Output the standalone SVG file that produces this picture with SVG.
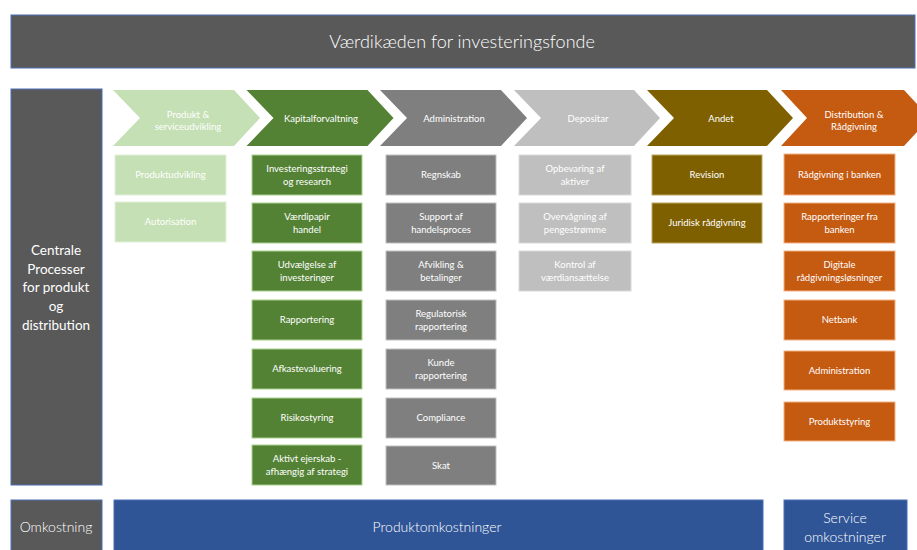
<svg xmlns="http://www.w3.org/2000/svg" width="917" height="550" viewBox="0 0 917 550">
<style>
text{font-family:Lato,"Open Sans","Liberation Sans",sans-serif;fill:#fff;text-anchor:middle}
.hd{stroke:#4a6fb5;stroke-width:1}
.t{font-size:18px;font-weight:300}
.l{font-size:13.5px}
.c{font-size:9.5px}
.b{font-size:9.5px}
.bt{font-size:14px;font-weight:300}
.bx{stroke-width:1}
.lg{fill:#c5e0b4}
.dg{fill:#548235;stroke:#a9d18e}
.gr{fill:#7f7f7f;stroke:#bfbfbf}
.lgr{fill:#bfbfbf;stroke:#d9d9d9}
.ol{fill:#7f6000;stroke:#bfa760}
.or{fill:#c55a11;stroke:#f4b183}
.lgb{fill:#c5e0b4;stroke:#e2f0d9}
</style>
<g id="title"><rect class="hd" x="11" y="15" width="904" height="53" fill="#595959"/><text class="t" x="462" y="48">Værdikæden for investeringsfonde</text></g>
<g id="left"><rect class="hd" x="11" y="89" width="91" height="396" fill="#595959"/>
<text class="l" x="56" y="255">Centrale</text><text class="l" x="56" y="273.7">Processer</text><text class="l" x="56" y="292.4">for produkt</text><text class="l" x="56" y="311.1">og</text><text class="l" x="56" y="329.8">distribution</text></g>
<g id="chevrons">
<g id="ch1"><polygon class="lg" points="113,90 234,90 260,118 234,146 113,146 140,118"/><text class="c" x="188" y="117.5">Produkt &amp;</text><text class="c" x="188" y="130">serviceudvikling</text></g>
<g id="ch2"><polygon fill="#548235" points="246.5,90 367.5,90 393.5,118 367.5,146 246.5,146 273.5,118"/><text class="c" x="321" y="122">Kapitalforvaltning</text></g>
<g id="ch3"><polygon fill="#7f7f7f" points="380,90 501,90 527,118 501,146 380,146 407,118"/><text class="c" x="454" y="122">Administration</text></g>
<g id="ch4"><polygon fill="#bfbfbf" points="514,90 634,90 660,118 634,146 514,146 541,118"/><text class="c" x="588" y="122">Depositar</text></g>
<g id="ch5"><polygon fill="#7f6000" points="647,90 767,90 793,118 767,146 647,146 674,118"/><text class="c" x="721" y="122">Andet</text></g>
<g id="ch6"><polygon fill="#c55a11" points="781,90 904,90 930,118 904,146 781,146 807,118"/><text class="c" x="854" y="117.5">Distribution &amp;</text><text class="c" x="854" y="130">Rådgivning</text></g>
</g>
<g id="col1">
<g id="n1a"><rect class="bx lgb" x="115" y="155" width="111" height="40"/><text class="b" x="170.5" y="178.3">Produktudvikling</text></g>
<g id="n1b"><rect class="bx lgb" x="115" y="202" width="111" height="40"/><text class="b" x="170.5" y="225.3">Autorisation</text></g>
</g>
<g id="col2">
<g id="n2a"><rect class="bx dg" x="252" y="155" width="110" height="40"/><text class="b" x="307" y="171.6">Investeringsstrategi</text><text class="b" x="307" y="185">og research</text></g>
<g id="n2b"><rect class="bx dg" x="252" y="203" width="110" height="40"/><text class="b" x="307" y="219.6">Værdipapir</text><text class="b" x="307" y="233">handel</text></g>
<g id="n2c"><rect class="bx dg" x="252" y="251" width="110" height="40"/><text class="b" x="307" y="267.6">Udvælgelse af</text><text class="b" x="307" y="281">investeringer</text></g>
<g id="n2d"><rect class="bx dg" x="252" y="300" width="110" height="40"/><text class="b" x="307" y="323.3">Rapportering</text></g>
<g id="n2e"><rect class="bx dg" x="252" y="349" width="110" height="40"/><text class="b" x="307" y="372.3">Afkastevaluering</text></g>
<g id="n2f"><rect class="bx dg" x="252" y="398" width="110" height="40"/><text class="b" x="307" y="421.3">Risikostyring</text></g>
<g id="n2g"><rect class="bx dg" x="252" y="445" width="110" height="40"/><text class="b" x="307" y="461.6">Aktivt ejerskab -</text><text class="b" x="307" y="475">afhængig af strategi</text></g>
</g>
<g id="col3">
<g id="n3a"><rect class="bx gr" x="386" y="155" width="110" height="40"/><text class="b" x="441" y="178.3">Regnskab</text></g>
<g id="n3b"><rect class="bx gr" x="386" y="203" width="110" height="40"/><text class="b" x="441" y="219.6">Support af</text><text class="b" x="441" y="233">handelsproces</text></g>
<g id="n3c"><rect class="bx gr" x="386" y="251" width="110" height="40"/><text class="b" x="441" y="267.6">Afvikling &amp;</text><text class="b" x="441" y="281">betalinger</text></g>
<g id="n3d"><rect class="bx gr" x="386" y="300" width="110" height="40"/><text class="b" x="441" y="316.6">Regulatorisk</text><text class="b" x="441" y="330">rapportering</text></g>
<g id="n3e"><rect class="bx gr" x="386" y="349" width="110" height="40"/><text class="b" x="441" y="365.6">Kunde</text><text class="b" x="441" y="379">rapportering</text></g>
<g id="n3f"><rect class="bx gr" x="386" y="398" width="110" height="40"/><text class="b" x="441" y="421.3">Compliance</text></g>
<g id="n3g"><rect class="bx gr" x="386" y="446" width="110" height="39"/><text class="b" x="441" y="468.8">Skat</text></g>
</g>
<g id="col4">
<g id="n4a"><rect class="bx lgr" x="519" y="155" width="112" height="40"/><text class="b" x="575" y="171.6">Opbevaring af</text><text class="b" x="575" y="185">aktiver</text></g>
<g id="n4b"><rect class="bx lgr" x="519" y="203" width="112" height="40"/><text class="b" x="575" y="219.6">Overvågning af</text><text class="b" x="575" y="233">pengestrømme</text></g>
<g id="n4c"><rect class="bx lgr" x="519" y="251" width="112" height="40"/><text class="b" x="575" y="267.6">Kontrol af</text><text class="b" x="575" y="281">værdiansættelse</text></g>
</g>
<g id="col5">
<g id="n5a"><rect class="bx ol" x="652" y="155" width="110" height="40"/><text class="b" x="707" y="178.3">Revision</text></g>
<g id="n5b"><rect class="bx ol" x="652" y="203" width="110" height="40"/><text class="b" x="707" y="226.3">Juridisk rådgivning</text></g>
</g>
<g id="col6">
<g id="n6a"><rect class="bx or" x="784" y="154" width="111" height="41"/><text class="b" x="839.5" y="177.8">Rådgivning i banken</text></g>
<g id="n6b"><rect class="bx or" x="784" y="203" width="111" height="40"/><text class="b" x="839.5" y="219.6">Rapporteringer fra</text><text class="b" x="839.5" y="233">banken</text></g>
<g id="n6c"><rect class="bx or" x="784" y="251" width="111" height="40"/><text class="b" x="839.5" y="267.6">Digitale</text><text class="b" x="839.5" y="281">rådgivningsløsninger</text></g>
<g id="n6d"><rect class="bx or" x="784" y="300" width="111" height="40"/><text class="b" x="839.5" y="323.3">Netbank</text></g>
<g id="n6e"><rect class="bx or" x="784" y="351" width="111" height="39"/><text class="b" x="839.5" y="373.8">Administration</text></g>
<g id="n6f"><rect class="bx or" x="784" y="402" width="111" height="39"/><text class="b" x="839.5" y="424.8">Produktstyring</text></g>
</g>
<g id="bottom">
<g id="omk"><rect class="hd" x="11" y="500" width="91" height="52" fill="#595959"/><text class="bt" x="56" y="532">Omkostning</text></g>
<g id="prod"><rect class="hd" x="114" y="500" width="649" height="52" fill="#2f5597"/><text class="bt" x="437" y="532">Produktomkostninger</text></g>
<g id="serv"><rect class="hd" x="784" y="500" width="123" height="52" fill="#2f5597"/><text class="bt" x="845" y="523">Service</text><text class="bt" x="845" y="541.5">omkostninger</text></g>
</g>
<g id="connectors"/>
</svg>
